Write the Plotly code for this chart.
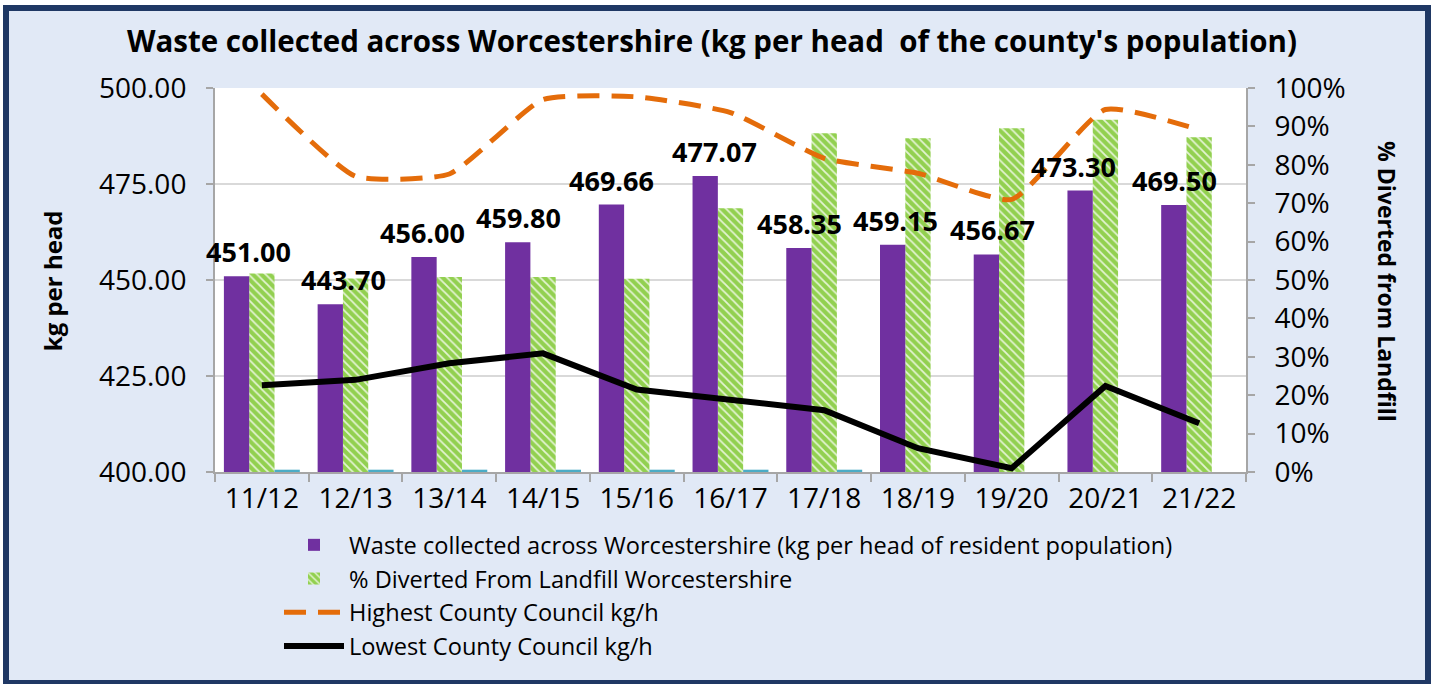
import plotly.graph_objects as go

years = ["11/12", "12/13", "13/14", "14/15", "15/16", "16/17", "17/18", "18/19", "19/20", "20/21", "21/22"]
waste_kg = [451.00, 443.70, 456.00, 459.80, 469.66, 477.07, 458.35, 459.15, 456.67, 473.30, 469.50]
diverted_pct = [51.7, 50.4, 50.8, 50.8, 50.3, 68.7, 88.2, 86.9, 89.5, 91.7, 87.2]
highest_cc = [498.4, 477.0, 477.6, 497.0, 497.7, 493.6, 481.7, 477.8, 471.0, 494.4, 489.1]
lowest_cc = [422.6, 424.0, 428.3, 430.9, 421.5, 418.7, 416.1, 406.2, 401.0, 422.4, 412.7]
minor_series = [0.6, 0.6, 0.6, 0.6, 0.6, 0.6, 0.6, None, None, None, None]

label_xshift = [12, 13, -2, 0, 0, 9, 0, 3, 6, -7, 0]

FONT = "Open Sans"
BAR_W = 0.27

fig = go.Figure()

fig.add_trace(go.Bar(
    x=years, y=diverted_pct, yaxis="y",
    name="% Diverted From Landfill Worcestershire",
    width=BAR_W, offset=-0.135,
    marker=dict(color="#92D050", line=dict(width=0),
                pattern=dict(shape="\\", fgcolor="white", fgopacity=0.75,
                             size=6, solidity=0.3, fillmode="overlay")),
    legendgroup="g2", legendrank=2,
))
fig.add_trace(go.Bar(
    x=years, y=minor_series, yaxis="y",
    width=BAR_W, offset=0.135, marker=dict(color="#4BACC6", line=dict(width=0)),
    showlegend=False, hoverinfo="skip",
))
fig.add_trace(go.Bar(
    x=years, y=waste_kg, yaxis="y2",
    name="Waste collected across Worcestershire (kg per head of resident population)",
    width=BAR_W, offset=-0.405,
    marker=dict(color="#7030A0", line=dict(width=0)),
    legendgroup="g1", legendrank=1,
))
fig.add_trace(go.Scatter(
    x=years, y=highest_cc, yaxis="y2", mode="lines",
    name="Highest County Council kg/h",
    line=dict(color="#E46C0A", width=5, dash="22px,12px", shape="spline", smoothing=0.5),
    legendgroup="g3", legendrank=3,
))
fig.add_trace(go.Scatter(
    x=years, y=lowest_cc, yaxis="y2", mode="lines",
    name="Lowest County Council kg/h",
    line=dict(color="#000000", width=6),
    legendgroup="g4", legendrank=4,
))

annotations = []
for yr, v, dx in zip(years, waste_kg, label_xshift):
    annotations.append(dict(
        x=yr, y=v, xref="x", yref="y2", text=f"{v:.2f}", showarrow=False,
        xshift=-25 + dx, yshift=4, xanchor="center", yanchor="bottom",
        font=dict(family=FONT, size=27, color="black", weight="bold"),
    ))
annotations.append(dict(
    x=-0.158, y=0.497, xref="paper", yref="paper", text="kg per head",
    textangle=-90, showarrow=False, xanchor="center", yanchor="middle",
    font=dict(family=FONT, size=24, color="black", weight="bold"),
))
annotations.append(dict(
    x=1.1368, y=0.497, xref="paper", yref="paper", text="% Diverted from Landfill",
    textangle=90, showarrow=False, xanchor="center", yanchor="middle",
    font=dict(family=FONT, size=23, color="black", weight="bold"),
))

W, H = 1439, 684
L, R, T, B = 215, 193, 88, 212
pw, ph = W - L - R, H - T - B

def px_x(p):
    return (p - L) / pw

def px_y(p):
    return (H - B - p) / ph

shapes = [
    dict(type="rect", xref="paper", yref="paper", layer="below",
         x0=px_x(6), x1=px_x(1428), y0=px_y(683), y1=px_y(8),
         fillcolor="#E1E9F6", line=dict(color="#1F3864", width=6)),
    dict(type="rect", xref="paper", yref="paper", layer="below",
         x0=0, x1=1, y0=0, y1=1, fillcolor="white", line=dict(width=0)),
]

fig.update_layout(
    width=W, height=H,
    margin=dict(l=L, r=R, t=T, b=B, pad=0, autoexpand=False),
    paper_bgcolor="white", plot_bgcolor="white",
    barmode="overlay",
    title=dict(text="<b>Waste collected across Worcestershire (kg per head  of the county's population)</b>",
               x=712 / W, xref="container", xanchor="center",
               y=1 - 42 / H, yref="container", yanchor="middle",
               font=dict(family=FONT, size=29.5, color="black")),
    font=dict(family=FONT, color="black"),
    xaxis=dict(type="category", categoryorder="array", categoryarray=years,
               tickson="boundaries", ticks="outside", ticklen=8, tickwidth=2,
               tickcolor="#A6A6A6", showline=True, linecolor="#A6A6A6", linewidth=2,
               tickfont=dict(family=FONT, size=28), showgrid=False,
               range=[-0.5, 10.5]),
    yaxis=dict(side="right", range=[0, 100], dtick=10, ticksuffix="%",
               showgrid=False, zeroline=False, ticks="outside", ticklen=7,
               tickwidth=2, tickcolor="#A6A6A6", showline=True,
               linecolor="#A6A6A6", linewidth=2,
               tickfont=dict(family=FONT, size=28), ticklabelstandoff=14),
    yaxis2=dict(side="left", overlaying="y", range=[400, 500], dtick=25,
                tickformat=".2f", showgrid=True, gridcolor="#D9D9D9", gridwidth=2,
                zeroline=False, ticks="outside", ticklen=7, tickwidth=2,
                tickcolor="#A6A6A6", showline=True, linecolor="#A6A6A6", linewidth=2,
                tickfont=dict(family=FONT, size=28), ticklabelstandoff=14),
    legend=dict(x=px_x(279), xanchor="left", y=px_y(523), yanchor="top",
                bgcolor="rgba(0,0,0,0)", font=dict(family=FONT, size=23.6),
                traceorder="normal", tracegroupgap=9, itemwidth=60),
    annotations=annotations,
    shapes=shapes,
)

fig.write_html("out.html", config={"displayModeBar": False},
               post_script="document.body.style.margin='0';document.body.style.overflow='hidden';")
